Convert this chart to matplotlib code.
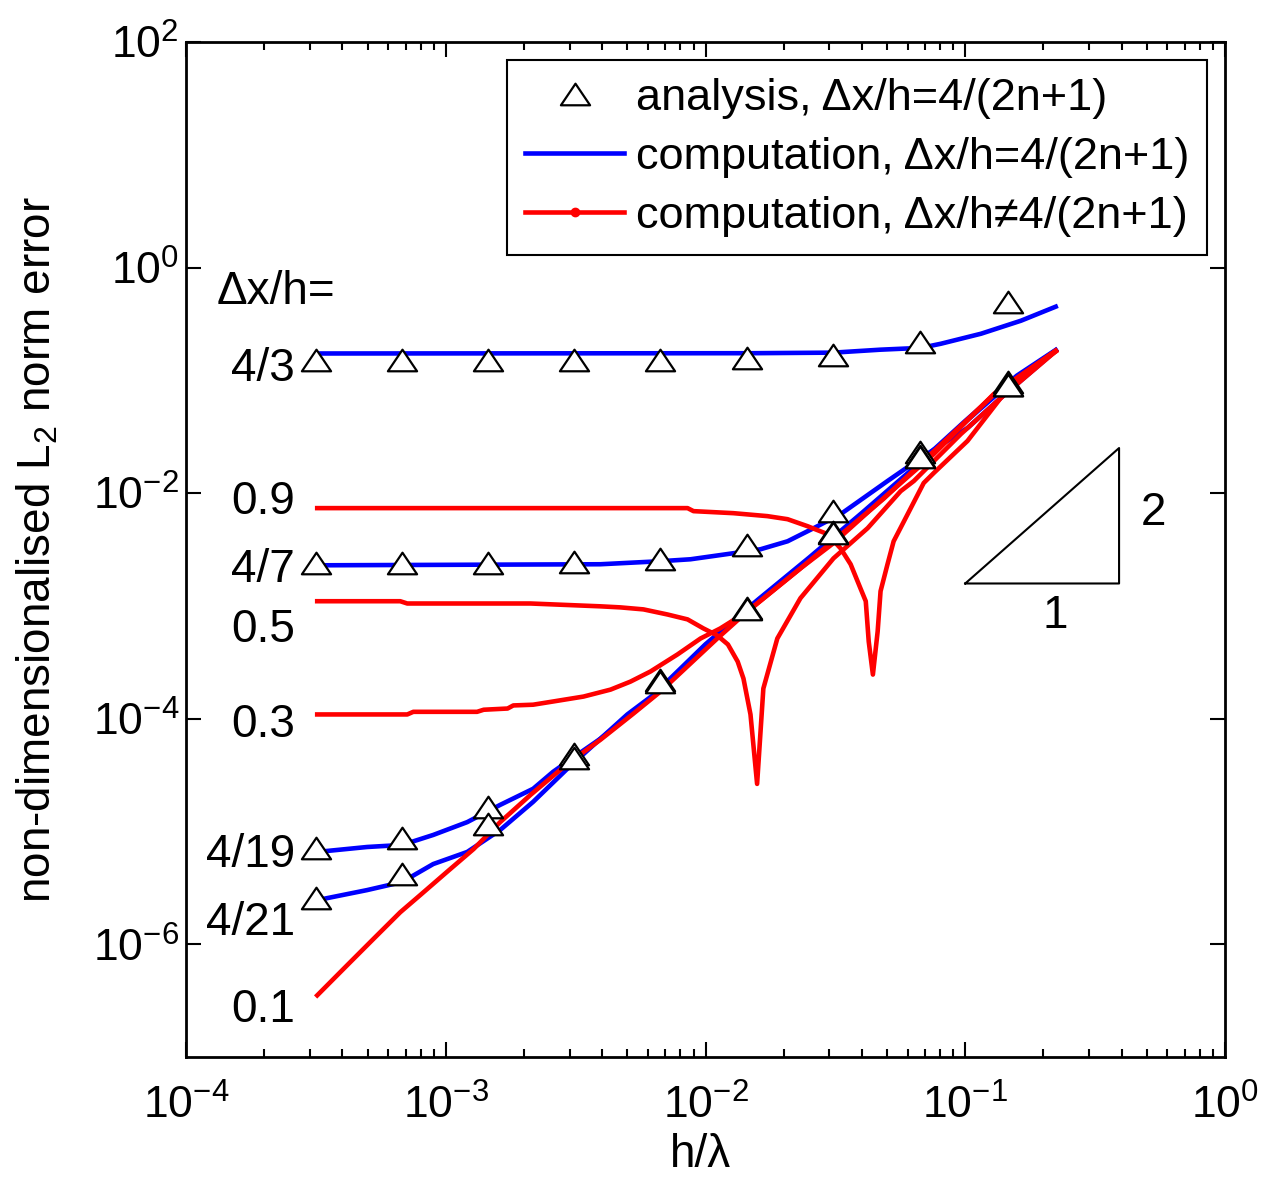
import matplotlib
matplotlib.use("Agg")
import matplotlib.pyplot as plt
from matplotlib.lines import Line2D
from matplotlib.path import Path
from matplotlib.ticker import LogLocator, NullLocator

plt.rcParams['font.family'] = ['Liberation Sans', 'DejaVu Sans']
plt.rcParams['mathtext.fontset'] = 'custom'
plt.rcParams['mathtext.rm'] = 'Liberation Sans'
plt.rcParams['mathtext.default'] = 'regular'

# analysis points (triangles), h/lambda
x_ana = [3.16e-4, 6.8e-4, 1.46e-3, 3.13e-3, 6.7e-3, 1.44e-2, 3.09e-2, 6.7e-2, 0.146]
ana_4_3 = [0.152, 0.152, 0.152, 0.152, 0.152, 0.158, 0.167, 0.22, 0.50]
ana_4_7 = [2.42e-3, 2.42e-3, 2.42e-3, 2.45e-3, 2.59e-3, 3.45e-3, 6.9e-3, 2.31e-2, 9.7e-2]
ana_4_19 = [7.13e-6, 8.67e-6, 1.65e-5, 4.9e-5, 2.18e-4, 9.6e-4, 4.55e-3, 2.13e-2, 9.1e-2]
ana_4_21 = [2.56e-6, 4.18e-6, 1.17e-5, 4.5e-5, 2.1e-4, 9.4e-4, 4.45e-3, 2.08e-2, 9.0e-2]

# computation, dx/h = 4/(2n+1)  (blue)
x_4_3 = [3.2e-4, 0.015, 0.031, 0.0472, 0.0675, 0.0805, 0.115, 0.164, 0.223]
y_4_3 = [0.173, 0.174, 0.176, 0.187, 0.194, 0.211, 0.259, 0.338, 0.45]

x_4_7 = [3.2e-4, 3.94e-3, 6.71e-3, 8.75e-3, 1.28e-2, 1.63e-2, 2.07e-2, 2.61e-2,
         3.31e-2, 5.02e-2, 6.75e-2, 0.102, 0.137, 0.223]
y_4_7 = [2.29e-3, 2.34e-3, 2.49e-3, 2.59e-3, 2.93e-3, 3.18e-3, 3.74e-3, 4.89e-3,
         6.50e-3, 1.28e-2, 2.05e-2, 3.78e-2, 6.98e-2, 0.183]

x_4_19 = [3.2e-4, 4.98e-4, 6.79e-4, 8.95e-4, 1.21e-3, 1.62e-3, 2.17e-3, 2.59e-3, 3.21e-3,
          3.94e-3, 5.0e-3, 6.31e-3, 0.01, 0.0158, 0.0251, 0.0398, 0.0631, 0.1, 0.158, 0.223]
y_4_19 = [6.58e-6, 7.28e-6, 7.59e-6, 9.31e-6, 1.21e-5, 1.72e-5, 2.39e-5, 3.38e-5, 4.79e-5,
          6.64e-5, 1.09e-4, 1.63e-4, 4.57e-4, 1.12e-3, 2.69e-3, 6.61e-3, 1.66e-2, 4.37e-2, 0.110, 0.186]

x_4_21 = [3.2e-4, 4.98e-4, 6.79e-4, 8.95e-4, 1.21e-3, 1.62e-3, 2.17e-3, 2.94e-3, 3.94e-3,
          6.31e-3, 0.01, 0.0158, 0.0251, 0.0398, 0.0631, 0.1, 0.158, 0.223]
y_4_21 = [2.46e-6, 3.02e-6, 3.56e-6, 5.14e-6, 6.58e-6, 1.03e-5, 1.83e-5, 3.60e-5, 6.64e-5,
          1.58e-4, 4.47e-4, 1.10e-3, 2.63e-3, 6.46e-3, 1.62e-2, 4.27e-2, 0.107, 0.184]

# computation, dx/h != 4/(2n+1)  (red)
x_01 = [3.2e-4, 4.17e-4, 5.26e-4, 6.68e-4, 7.98e-4, 1.01e-3, 1.28e-3, 1.62e-3, 2.12e-3, 2.94e-3,
        3.94e-3, 5.28e-3, 6.71e-3, 1.11e-2, 1.45e-2, 2.32e-2, 3.11e-2, 4.85e-2, 7.57e-2, 0.129, 0.223]
y_01 = [3.52e-7, 6.50e-7, 1.11e-6, 1.92e-6, 2.73e-6, 4.37e-6, 6.98e-6, 1.21e-5, 2.11e-5, 3.98e-5,
        6.50e-5, 1.11e-4, 1.74e-4, 5.14e-4, 8.93e-4, 2.15e-3, 3.60e-3, 9.04e-3, 2.22e-2, 7.59e-2, 0.183]

x_03 = [3.2e-4, 7.11e-4, 7.5e-4, 1.32e-3, 1.40e-3, 1.73e-3, 1.82e-3, 2.17e-3, 2.59e-3, 3.39e-3, 4.31e-3,
        5.14e-3, 6.14e-3, 7.80e-3, 9.57e-3, 1.14e-2, 1.45e-2, 2.32e-2, 4.85e-2, 0.129, 0.223]
y_03 = [1.09e-4, 1.09e-4, 1.15e-4, 1.15e-4, 1.20e-4, 1.23e-4, 1.31e-4, 1.33e-4, 1.42e-4, 1.57e-4, 1.81e-4,
        2.13e-4, 2.62e-4, 3.71e-4, 5.14e-4, 6.31e-4, 8.93e-4, 2.15e-3, 8.91e-3, 7.50e-2, 0.180]

x_05 = [3.2e-4, 6.68e-4, 7.11e-4, 2.12e-3, 3.94e-3, 4.70e-3, 5.77e-3, 7.14e-3, 8.53e-3, 9.82e-3,
        1.11e-2, 1.22e-2, 1.33e-2, 1.40e-2, 1.49e-2, 1.58e-2, 1.67e-2, 1.89e-2, 2.32e-2, 3.11e-2,
        4.21e-2, 5.64e-2, 6.34e-2, 9.62e-2, 0.137, 0.223]
y_05 = [1.10e-3, 1.10e-3, 1.05e-3, 1.05e-3, 9.91e-4, 9.70e-4, 9.31e-4, 8.39e-4, 7.59e-4, 6.31e-4,
        5.47e-4, 4.55e-4, 3.21e-4, 2.27e-4, 1.09e-4, 2.64e-5, 1.85e-4, 5.14e-4, 1.17e-3, 2.64e-3,
        4.89e-3, 1.04e-2, 1.28e-2, 3.34e-2, 6.98e-2, 0.181]

x_09 = [3.2e-4, 8.53e-3, 8.99e-3, 1.28e-2, 1.73e-2, 2.07e-2, 2.47e-2, 2.95e-2, 3.31e-2, 3.62e-2,
        3.95e-2, 4.14e-2, 4.25e-2, 4.41e-2, 4.60e-2, 4.72e-2, 5.02e-2, 5.30e-2, 6.0e-2, 6.92e-2,
        7.57e-2, 0.102, 0.137, 0.179, 0.223]
y_09 = [7.36e-3, 7.36e-3, 6.92e-3, 6.64e-3, 6.25e-3, 5.87e-3, 5.09e-3, 4.33e-3, 3.24e-3, 2.34e-3,
        1.43e-3, 1.10e-3, 4.83e-4, 2.46e-4, 5.93e-4, 1.35e-3, 2.34e-3, 3.74e-3, 6.50e-3, 1.23e-2,
        1.51e-2, 2.90e-2, 6.98e-2, 0.126, 0.183]

# curve labels: text, y (baseline)
curve_labels = ['4/3', '0.9', '4/7', '0.5', '0.3', '4/19', '4/21', '0.1']
curve_label_y = [0.099, 6.5e-3, 1.62e-3, 4.83e-4, 6.92e-5, 4.83e-6, 1.2e-6, 2.03e-7]

# slope triangle corners
slope_x = [0.1, 0.391]
slope_y = [1.58e-3, 0.0251]

legend_labels = ['analysis, \u0394x/h=4/(2n+1)',
                 'computation, \u0394x/h=4/(2n+1)',
                 'computation, \u0394x/h\u22604/(2n+1)']

xticks = [1e-4, 1e-3, 1e-2, 1e-1, 1e0]
xticklabels = [r'$10^{-4}$', r'$10^{-3}$', r'$10^{-2}$', r'$10^{-1}$', r'$10^{0}$']
yticks = [1e-6, 1e-4, 1e-2, 1e0, 1e2]
yticklabels = [r'$10^{-6}$', r'$10^{-4}$', r'$10^{-2}$', r'$10^{0}$', r'$10^{2}$']

fs = 33

fig = plt.figure(figsize=(12.66, 11.79), dpi=100)
ax = fig.add_axes([186 / 1266, 1 - 1057 / 1179, 1039 / 1266, 1015 / 1179])

tri = Path([(-1, -0.74), (1, -0.74), (0, 0.74), (-1, -0.74)],
           [Path.MOVETO, Path.LINETO, Path.LINETO, Path.CLOSEPOLY])
lw = 3.3
mk = dict(ls='none', marker=tri, ms=21, mfc='white', mec='black', mew=1.6, zorder=5)

for xs, ys in [(x_4_3, y_4_3), (x_4_7, y_4_7), (x_4_19, y_4_19), (x_4_21, y_4_21)]:
    ax.plot(xs, ys, color='#0000ff', lw=lw, zorder=2)
for xs, ys in [(x_09, y_09), (x_05, y_05), (x_03, y_03), (x_01, y_01)]:
    ax.plot(xs, ys, color='#ff0000', lw=lw, zorder=3)
for ys in [ana_4_3, ana_4_7, ana_4_19, ana_4_21]:
    ax.plot(x_ana, ys, **mk)

# slope triangle
ax.plot([slope_x[0], slope_x[1], slope_x[1], slope_x[0]],
        [slope_y[0], slope_y[0], slope_y[1], slope_y[0]], color='black', lw=1.5)
ax.text(0.53, 6.6e-3, '2', fontsize=fs, ha='center', va='center')
ax.text(0.223, 8.07e-4, '1', fontsize=fs, ha='center', va='center')

ax.text(1.31e-4, 0.479, '\u0394x/h=', fontsize=fs, ha='left', va='baseline')
for lab, yy in zip(curve_labels, curve_label_y):
    ax.text(2.62e-4, yy, lab, fontsize=fs, ha='right', va='baseline')

ax.set_xscale('log')
ax.set_yscale('log')
ax.set_xlim(1e-4, 1)
ax.set_ylim(1e-7, 1e2)
ax.set_xticks(xticks)
ax.set_xticklabels(xticklabels)
ax.set_yticks(yticks)
ax.set_yticklabels(yticklabels)
ax.xaxis.set_minor_locator(LogLocator(base=10, subs=range(2, 10)))
ax.yaxis.set_minor_locator(NullLocator())
ax.tick_params(which='both', direction='in', top=True, right=True, width=1.5, labelsize=32)
ax.tick_params(which='major', length=11)
ax.tick_params(which='minor', length=6)
ax.tick_params(axis='x', pad=20)
ax.tick_params(axis='y', pad=5)
for sp in ax.spines.values():
    sp.set_linewidth(2)

ax.set_xlabel('h/\u03bb', fontsize=fs)
ax.xaxis.set_label_coords(0.495, -0.075)
ax.set_ylabel('non-dimensionalised L$_2$ norm error', fontsize=fs)
ax.yaxis.set_label_coords(-0.121, 0.5)

h_tri = Line2D([], [], ls='none', marker=tri, ms=21, mfc='white', mec='black', mew=1.6)
h_blue = Line2D([], [], color='#0000ff', lw=lw)
h_red = Line2D([], [], color='#ff0000', lw=lw, marker='o', ms=6)
leg = ax.legend([h_tri, h_blue, h_red], legend_labels, loc='upper right', fontsize=32.5,
                frameon=True, fancybox=False, edgecolor='black', framealpha=1,
                borderaxespad=0.4, handlelength=2.2, handletextpad=0.25,
                labelspacing=0.4, borderpad=0.4, numpoints=1)
leg.get_frame().set_linewidth(1.5)

fig.savefig('out.png', dpi=100)
